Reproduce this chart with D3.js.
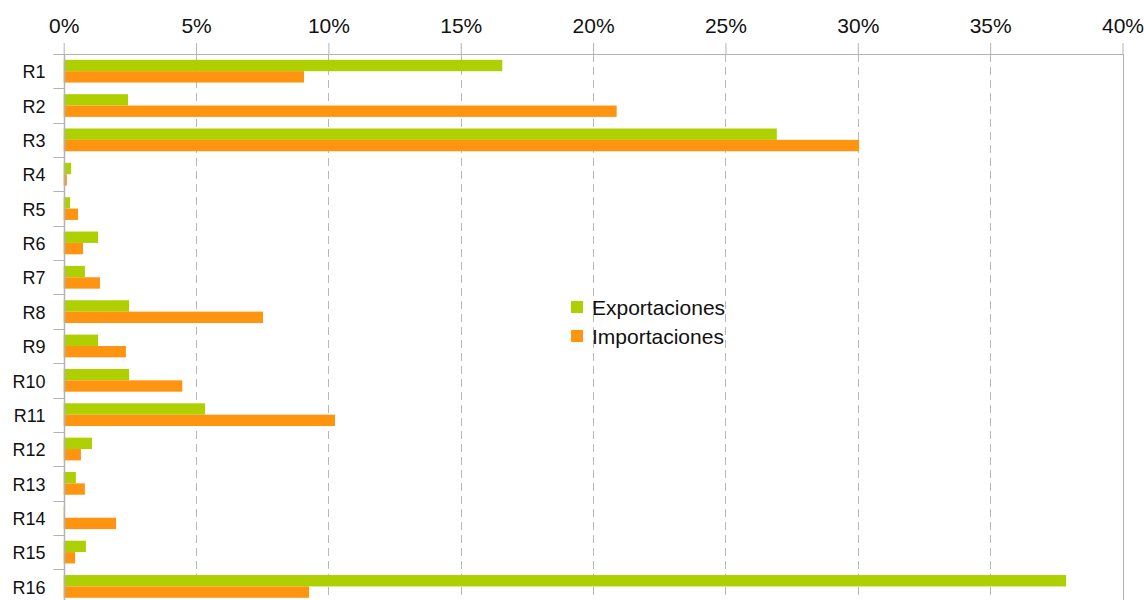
<!DOCTYPE html>
<html><head><meta charset="utf-8">
<script src="https://cdn.jsdelivr.net/npm/d3@7"></script>
<style>body{margin:0;background:#fff}svg{display:block}</style>
</head><body>
<svg id="c" width="1144" height="600"></svg>
<script>
const categories = ["R1","R2","R3","R4","R5","R6","R7","R8","R9","R10","R11","R12","R13","R14","R15","R16"];
const exportaciones = [16.57,2.43,26.94,0.28,0.24,1.30,0.80,2.47,1.30,2.47,5.34,1.07,0.46,0.05,0.84,37.87];
const importaciones = [9.08,20.89,30.05,0.12,0.54,0.73,1.37,7.53,2.35,4.48,10.25,0.65,0.80,1.98,0.43,9.27];
const seriesNames = ["Exportaciones","Importaciones"];
const colors = ["#afd000","#ff9411"];
const xTicks = [0,5,10,15,20,25,30,35,40];

(function(){
const svg = d3.select("#c");
const font = "'Liberation Sans', Arial, sans-serif";
const mLeft = 63.7, mRight = 1122.5, mTop = 54, mBottom = 54 + 16*34.35;
const x = d3.scaleLinear().domain([0,40]).range([mLeft,mRight]);
const y = d3.scaleBand().domain(categories).range([mTop,mBottom]).padding(0);
const inner = d3.scaleBand().domain(seriesNames).range([0, y.bandwidth()]).paddingInner(0).paddingOuter(0.51);

// grid
svg.append("g").selectAll("line").data(xTicks.filter(t=>t>0&&t<40)).join("line")
  .attr("x1",d=>Math.round(x(d))+0.5).attr("x2",d=>Math.round(x(d))+0.5)
  .attr("y1",mTop).attr("y2",mBottom)
  .attr("stroke","#b8b8b8").attr("stroke-width",1).attr("stroke-dasharray","8,5");
// right border
svg.append("line").attr("x1",Math.round(x(40))+0.5).attr("x2",Math.round(x(40))+0.5)
  .attr("y1",mTop).attr("y2",mBottom).attr("stroke","#b3b3b3");

// bars
const series = [exportaciones, importaciones];
series.forEach((vals,si)=>{
  svg.append("g").selectAll("rect").data(categories).join("rect")
    .attr("x",x(0))
    .attr("y",(d)=>y(d)+inner(seriesNames[si]))
    .attr("width",(d,i)=>x(vals[i])-x(0))
    .attr("height",inner.bandwidth())
    .attr("fill",colors[si]);
});

// top axis
const xAxis = d3.axisTop(x).tickValues(xTicks).tickFormat(d=>d+"%").tickSize(11).tickSizeOuter(0).tickPadding(10.5);
const gx = svg.append("g").attr("transform",`translate(0,${mTop})`).call(xAxis);
gx.select(".domain").attr("stroke","#b3b3b3");
gx.selectAll(".tick line").attr("stroke","#b3b3b3");
gx.selectAll("text").attr("font-family",font).attr("font-size",21).attr("fill","#111");

// left axis
const gy = svg.append("g").attr("transform",`translate(${Math.round(mLeft)+0.5},0)`);
gy.append("line").attr("y1",mTop).attr("y2",mBottom).attr("stroke","#b3b3b3").attr("stroke-width",1.5);
gy.selectAll("line.t").data(d3.range(0,17)).join("line").attr("class","t")
  .attr("x1",-11).attr("x2",0)
  .attr("y1",i=>Math.round(mTop+i*y.step())+0.5).attr("y2",i=>Math.round(mTop+i*y.step())+0.5)
  .attr("stroke","#b3b3b3");
gy.selectAll("text").data(categories).join("text")
  .attr("x",-19).attr("y",d=>y(d)+y.bandwidth()/2).attr("dy","0.4em")
  .attr("text-anchor","end").attr("font-family",font).attr("font-size",18).attr("fill","#111")
  .text(d=>d);

// legend
const lg = svg.append("g").attr("transform","translate(571,301)");
seriesNames.forEach((n,i)=>{
  lg.append("rect").attr("x",0).attr("y",i*29).attr("width",12).attr("height",12).attr("fill",colors[i]);
  lg.append("text").attr("x",21).attr("y",i*29+13.5)
    .attr("font-family",font).attr("font-size",21).attr("fill","#111").text(n);
});
})();
</script>
</body></html>
